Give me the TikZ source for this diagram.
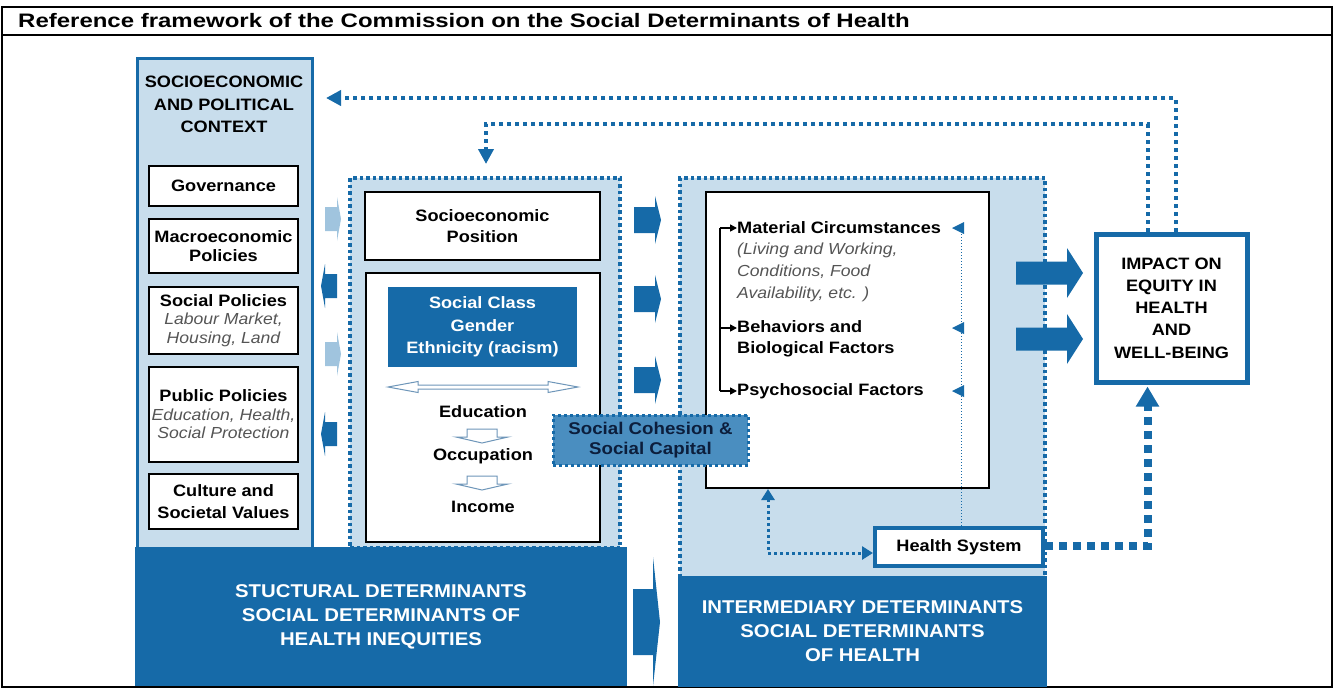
\documentclass[tikz,border=0pt]{standalone}
\usepackage{fontspec}
\setmainfont{Liberation Sans}[FakeStretch=1.1]
\newfontfamily\titlefont{Liberation Sans}[FakeStretch=1.23]
\usetikzlibrary{arrows.meta}

\definecolor{dkblue}{RGB}{22,106,168}
\definecolor{ltblue}{RGB}{200,221,236}
\definecolor{arrblue}{RGB}{160,196,222}
\definecolor{cohblue}{RGB}{74,142,192}
\definecolor{navy}{RGB}{12,30,60}
\definecolor{subgrey}{RGB}{85,85,85}
\definecolor{hollow}{RGB}{110,150,185}

\newcommand\subtxt[1]{{\fontsize{16}{18.5}\selectfont\mdseries\itshape\color{subgrey}#1}}

\tikzset{
  lbl/.style={font=\fontsize{16.5}{18.5}\selectfont\bfseries, align=center, inner sep=0pt},
  wbox/.style={draw=black, line width=2pt, fill=white, lbl},
  dotbox/.style={draw=dkblue, fill=ltblue, line width=3.5pt, dash pattern=on 3.5pt off 3pt},
  detbox/.style={fill=dkblue, text=white, align=center, inner sep=0pt, font=\fontsize{18.5}{24}\selectfont\bfseries},
  fbline/.style={draw=dkblue, line width=4pt, dash pattern=on 4pt off 4pt, -{Triangle[width=15pt,length=15pt]}},
  hsline/.style={draw=dkblue, line width=3pt, dash pattern=on 3pt off 3pt},
  hollowarrow/.style={draw=hollow, fill=white, line width=1pt}
}

\begin{document}
\begin{tikzpicture}[x=1pt,y=-1pt]
\useasboundingbox (0,0) rectangle (1334,689);

\draw[line width=1.5pt] (2,7) rectangle (1332,687);
\draw[line width=1.5pt] (2,35) -- (1332,35);
\node[anchor=west, inner sep=0pt, font=\titlefont\fontsize{19.5}{22}\selectfont\bfseries] (title) at (18,21)
  {Reference framework of the Commission on the Social Determinants of Health};

\node[draw=dkblue, fill=ltblue, line width=3pt, minimum width=175, minimum height=490] (ctx) at (224.5,303) {};
\node[lbl, font=\fontsize{16.5}{22.5}\selectfont\bfseries] (ctxlbl) at (224,104.5) {SOCIOECONOMIC\\AND POLITICAL\\CONTEXT};
\node[wbox, minimum width=149, minimum height=40] (gov) at (223.5,186) {Governance};
\node[wbox, minimum width=149, minimum height=54] (macro) at (223.5,246) {Macroeconomic\\Policies};
\node[wbox, minimum width=149, minimum height=67] (socpol) at (223.5,320.5) {Social Policies\\\subtxt{Labour Market,}\\\subtxt{Housing, Land}};
\node[wbox, minimum width=149, minimum height=95] (pubpol) at (223.5,414.5) {Public Policies\\\subtxt{Education, Health,}\\\subtxt{Social Protection}};
\node[wbox, minimum width=149, minimum height=55, font=\fontsize{16.5}{22}\selectfont\bfseries] (culture) at (223.5,501.5) {Culture and\\Societal Values};

\node[dotbox, minimum width=270, minimum height=370] (mid) at (485,363) {};
\node[dotbox, minimum width=365, minimum height=402] (rgt) at (862.5,379) {};

\node[detbox, minimum width=492, minimum height=139] (struct) at (381,616.5)
  {STUCTURAL DETERMINANTS\\SOCIAL DETERMINANTS OF\\HEALTH INEQUITIES};
\node[detbox, minimum width=369, minimum height=111] (interdet) at (862.5,631)
  {INTERMEDIARY DETERMINANTS\\SOCIAL DETERMINANTS\\OF HEALTH};

\node[wbox, minimum width=235, minimum height=68, font=\fontsize{16.5}{21}\selectfont\bfseries] (sep) at (482.5,226) {Socioeconomic\\Position};
\node[wbox, minimum width=234, minimum height=269] (pos) at (482.5,407.5) {};
\node[lbl, fill=dkblue, text=white, font=\fontsize{16.5}{22.5}\selectfont\bfseries, minimum width=189, minimum height=80] (scl) at (482.5,327)
  {Social Class\\Gender\\Ethnicity (racism)};
\draw[hollowarrow] (388,387) -- (418,381.5) -- (418,385) -- (548,385) -- (548,381.5) -- (578,387)
  -- (548,392.5) -- (548,389) -- (418,389) -- (418,392.5) -- cycle;
\node[lbl] (edu) at (483,412) {Education};
\node[lbl] (occ) at (483,456) {Occupation};
\node[lbl] (inc) at (483,507) {Income};
\foreach \y in {429,476}
  \draw[hollowarrow] (467,\y) -- (497,\y) -- (497,\y+8) -- (508,\y+8) -- (482,\y+14) -- (456,\y+8) -- (467,\y+8) -- cycle;

\node[wbox, minimum width=283, minimum height=296] (inbox) at (847.5,340) {};
\node[lbl, anchor=west] (mat) at (737,228) {Material Circumstances};
\node[lbl, anchor=west, align=left, font=\fontsize{16}{22.3}\selectfont\itshape, text=subgrey] (matsub) at (737,272.5)
  {(Living and Working,\\Conditions, Food\\Availability, etc. )};
\node[lbl, anchor=west, align=left, font=\fontsize{16.5}{21}\selectfont\bfseries] (beh) at (737,338.5) {Behaviors and\\Biological Factors};
\node[lbl, anchor=west] (psy) at (737,391) {Psychosocial Factors};
\draw[line width=1.5pt] (720,228) -- (720,391);
\draw[line width=1.5pt, -{Triangle[width=7pt,length=7pt]}] (720,228) -- (mat.west);
\draw[line width=1.5pt, -{Triangle[width=7pt,length=7pt]}] (720,328) -- ([yshift=10.5pt]beh.west);
\draw[line width=1.5pt, -{Triangle[width=7pt,length=7pt]}] (720,391) -- (psy.west);

\node[lbl, draw=dkblue, line width=4pt, fill=white, minimum width=168, minimum height=38] (hs) at (959,547) {Health System};
\coordinate (hsv) at (961,228);
\draw[dkblue, line width=1pt, dotted] (hsv) -- (hsv |- hs.north);
\foreach \y in {228,328,391}
  \fill[dkblue] (952,\y) -- (964,\y-6) -- (964,\y+6) -- cycle;
\coordinate (hsc) at (768,0);
\draw[hsline, {Triangle[width=13pt,length=11pt]}-{Triangle[width=13pt,length=11pt]}] (inbox.south -| hsc) |- ([yshift=-6pt]hs.west);

\node[lbl, draw=dkblue, fill=cohblue, line width=3pt, dash pattern=on 3pt off 3pt, text=navy,
  font=\fontsize{17}{20}\selectfont\bfseries, minimum width=195, minimum height=50] (coh) at (650.5,440) {Social Cohesion \&\\Social Capital};

\node[lbl, draw=dkblue, line width=5pt, fill=white, font=\fontsize{16.5}{22.3}\selectfont\bfseries, minimum width=151, minimum height=148] (imp) at (1171.5,308)
  {IMPACT ON\\EQUITY IN\\HEALTH\\AND\\WELL-BEING};

\foreach \y/\d/\c in {219/1/arrblue,286/-1/dkblue,354/1/arrblue,434/-1/dkblue}
  \fill[\c] (331-6*\d,\y-12) -- (331+6*\d,\y-12) -- (331+6*\d,\y-22) -- (331+10*\d,\y) -- (331+6*\d,\y+22) -- (331+6*\d,\y+12) -- (331-6*\d,\y+12) -- cycle;
\foreach \y in {220,299,380}
  \fill[dkblue] (634,\y-13) -- (655,\y-13) -- (655,\y-24) -- (661,\y) -- (655,\y+24) -- (655,\y+13) -- (634,\y+13) -- cycle;
\fill[dkblue] (633,589) -- (653,589) -- (653,557) -- (660,622) -- (653,686) -- (653,655) -- (633,655) -- cycle;
\foreach \y in {273,339}
  \fill[dkblue] (1016,\y-11.5) -- (1067,\y-11.5) -- (1067,\y-25) -- (1083,\y) -- (1067,\y+25) -- (1067,\y+11.5) -- (1016,\y+11.5) -- cycle;

\coordinate (ctxin) at (326,98);
\coordinate (fb2) at (486,124);
\coordinate (fb2end) at (486,164);
\draw[fbline] ([xshift=4pt]imp.north) |- (ctxin);
\draw[fbline] ([xshift=-24pt]imp.north) |- (fb2) -- (fb2end);
\draw[draw=dkblue, line width=8pt, dash pattern=on 8pt off 6pt, -{Triangle[width=22pt,length=20pt]}, shorten >=2pt]
  ([yshift=1pt]hs.east) -| ([xshift=-24pt]imp.south);
\end{tikzpicture}
\end{document}
